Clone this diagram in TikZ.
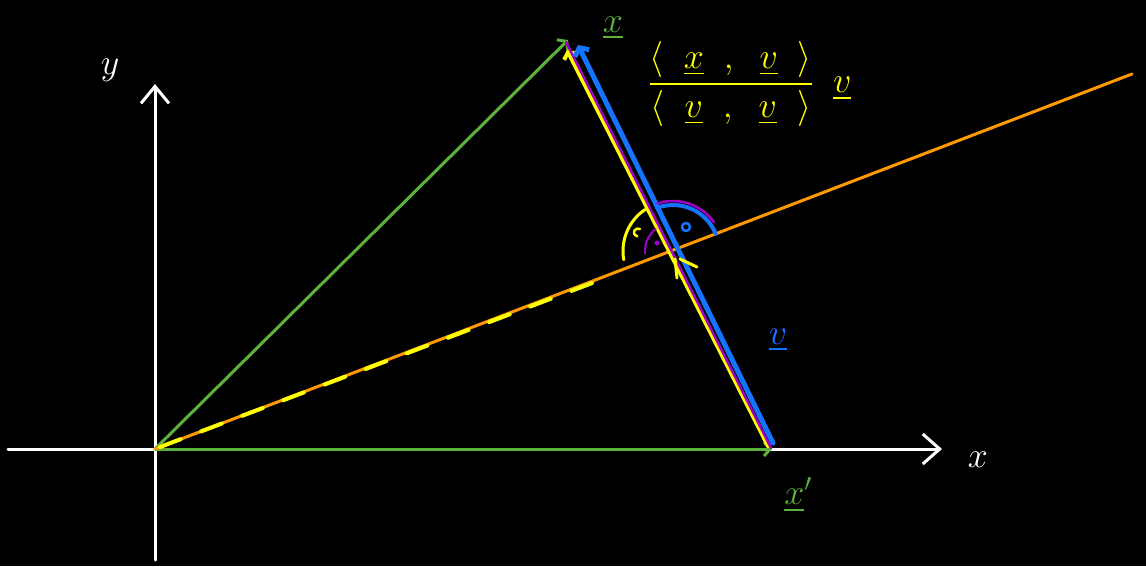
\RequirePackage{fix-cm}
\documentclass[tikz,border=0pt]{standalone}
\usepackage{amsmath,amssymb}
\usetikzlibrary{arrows.meta}
\definecolor{pgreen}{RGB}{92,178,58}
\definecolor{porange}{RGB}{255,153,0}
\definecolor{pyellow}{RGB}{255,255,0}
\definecolor{pblue}{RGB}{20,115,255}
\definecolor{ppurple}{RGB}{160,0,200}

\begin{document}
\begin{tikzpicture}[x=1pt,y=-1pt,line cap=round,line join=round,every node/.style={font=\fontsize{36}{40}\selectfont}]
\fill[black] (0,0) rectangle (1146,566);
\useasboundingbox (0,0) rectangle (1146,566);
\coordinate (o) at (155,449);
\coordinate (xl) at (8,449);
\coordinate (xr) at (942,449);
\coordinate (yb) at (155,560);
\coordinate (yt) at (155,84);
\coordinate (p) at (568,40);
\coordinate (q) at (772,449);
\coordinate (e) at (1132,74);
\coordinate (s) at (673,251);
\coordinate (d0) at (160,447);
\coordinate (d1) at (608,277);
\coordinate (ya) at (567,50);
\coordinate (yz) at (768,446);
\coordinate (pa) at (566,42);
\coordinate (pz) at (771,448);
\coordinate (ba) at (578,45);
\coordinate (bz) at (773,443);
% axes
\draw[white,line width=3pt,-{Straight Barb[length=17pt,width=30pt]}] (xl)--(xr);
\draw[white,line width=3pt,-{Straight Barb[length=17pt,width=28pt]}] (yb)--(yt);
\node[text=white] (ax) at (978,460) {$x$};
\node[text=white] (ay) at (110,70) {$y$};
% x and x'
\draw[pgreen,line width=3pt,-{Straight Barb[length=6pt,width=16pt]}] (o)--(p);
\draw[pgreen,line width=3pt,-{Straight Barb[length=6pt,width=14pt]}] (o)--(q);
\draw[porange,line width=3pt] (o)--(e);
\draw[pyellow,line width=4pt,dash pattern=on 22pt off 22pt] (d0)--(d1);
% from x' up to x
\draw[pyellow,line width=4pt,-{Straight Barb[length=5pt,width=14pt]}] (yz)--(ya);
\draw[ppurple,line width=2.5pt] (pz)--(pa);
\draw[pblue,line width=5pt,-{Straight Barb[length=6pt,width=16pt]}] (bz)--(ba);
% angles
\draw[ppurple,line width=2.5pt] (s) ++(-35:50) arc[start angle=-35,end angle=-108,radius=50];
\draw[pblue,line width=4pt] (s) ++(-22:46) arc[start angle=-22,end angle=-110,radius=46];
\draw[pblue,line width=2.5pt] (686,227) circle (4);
\draw[ppurple,line width=2pt] (s) ++(-128:28) arc[start angle=-128,end angle=-185,radius=28];
\fill[ppurple] (657,243) circle (2.5);
\draw[pyellow,line width=3pt] (s) ++(-124:50) arc[start angle=-124,end angle=-190,radius=50];
\draw[pyellow,line width=2.5pt] (640,229) arc[start angle=-60,end angle=-260,radius=4];
\draw[pyellow,line width=3pt] (675,259)--(677,278);
\draw[pyellow,line width=3pt] (680,259)--(697,267);
% labels
\node[text=pgreen] (lx) at (613,28) {$\underline{x}$};
\node[text=pyellow] (lproj) at (750,84) {$\dfrac{\langle\;\;\underline{x}\;\;,\;\;\underline{v}\;\;\rangle}{\langle\;\;\underline{v}\;\;,\;\;\underline{v}\;\;\rangle}\;\;\underline{v}$};
\node[text=pblue] (lv) at (778,340) {$\underline{v}$};
\node[text=pgreen] (lxq) at (798,495) {$\underline{x}'$};
\end{tikzpicture}
\end{document}
